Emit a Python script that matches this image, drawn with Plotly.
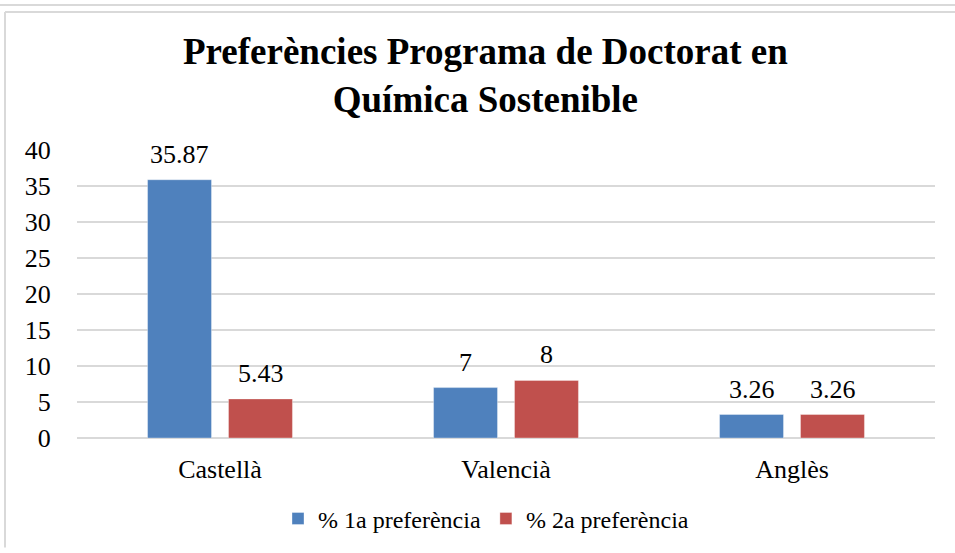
import plotly.graph_objects as go

categories = ["Castellà", "Valencià", "Anglès"]
series_names = ["% 1a preferència", "% 2a preferència"]
pref1 = [35.87, 7, 3.26]
pref2 = [5.43, 8, 3.26]
y_ticks = [0, 5, 10, 15, 20, 25, 30, 35, 40]
title_text = "Preferències Programa de Doctorat en<br>Química Sostenible"

colors = ["#4F81BD", "#C0504D"]
FONT = "'Liberation Serif', 'Times New Roman', serif"

fig = go.Figure()
for name, vals, col in zip(series_names, [pref1, pref2], colors):
    fig.add_trace(go.Bar(
        name=name, x=categories, y=vals,
        marker=dict(color=col, line=dict(color="rgba(255,255,255,0.35)", width=1)),
    ))

W, H = 955, 553
L, R, T, B = 77, 20, 150, 111
pw, ph = W - L - R, H - T - B

def px_x(x):
    return (x - L) / pw

def px_y(y):
    return (H - B - y) / ph

# data labels
for i, vals in enumerate([pref1, pref2]):
    for j, (c, v) in enumerate(zip(categories, vals)):
        fig.add_annotation(
            x=c, y=v, xref="x", yref="y", text=f"{v:g}", showarrow=False,
            yanchor="bottom", yshift=9, xshift=(-40.5 if i == 0 else 40.5),
            font=dict(family=FONT, size=26, color="#000000"),
        )

fig.add_annotation(
    x=px_x(485), y=px_y(74), xref="paper", yref="paper",
    text="<b>" + title_text.replace("<br>", "</b><br><b>") + "</b>",
    showarrow=False, xanchor="center", yanchor="middle",
    font=dict(family=FONT, size=37, color="#000000"),
)

# borders
line_col = "#D9D9D9"
fig.add_shape(type="line", xref="paper", yref="paper",
              x0=px_x(0), x1=px_x(955), y0=px_y(3), y1=px_y(3),
              line=dict(color=line_col, width=2))
fig.add_shape(type="line", xref="paper", yref="paper",
              x0=px_x(5), x1=px_x(955), y0=px_y(10), y1=px_y(10),
              line=dict(color=line_col, width=2))
fig.add_shape(type="line", xref="paper", yref="paper",
              x0=px_x(5), x1=px_x(5), y0=px_y(10), y1=px_y(553),
              line=dict(color=line_col, width=2))

fig.update_layout(
    width=W, height=H,
    margin=dict(l=L, r=R, t=T, b=B),
    paper_bgcolor="white", plot_bgcolor="white",
    barmode="group", bargap=0.434, bargroupgap=0.21,
    font=dict(family=FONT, size=26, color="#000000"),
    showlegend=True,
    legend=dict(orientation="h", x=px_x(486), xanchor="center",
                y=px_y(524), yanchor="middle",
                font=dict(family=FONT, size=24, color="#000000"),
                itemwidth=30),
    yaxis=dict(range=[0, 40], tickvals=y_ticks, showgrid=True,
               gridcolor=line_col, gridwidth=1.5, zeroline=True,
               zerolinecolor=line_col, zerolinewidth=1.5, showline=False,
               ticks="outside", ticklen=20, tickcolor="rgba(0,0,0,0)",
               tickfont=dict(family=FONT, size=26)),
    xaxis=dict(showline=False, ticks="outside", ticklen=8,
               tickcolor="rgba(0,0,0,0)",
               tickfont=dict(family=FONT, size=26)),
)

fig.write_html("out.html", config={"displayModeBar": False},
               post_script="document.body.style.margin='0';")
